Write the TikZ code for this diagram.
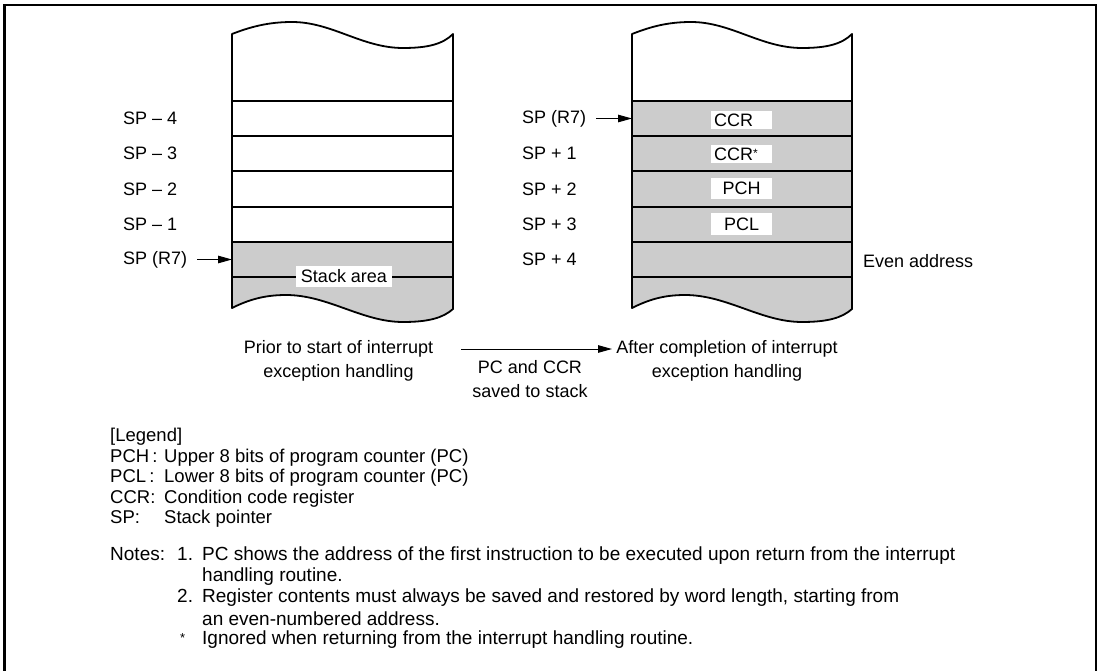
\documentclass[tikz,border=0pt]{standalone}
\usepackage{fontspec}
\setmainfont{Liberation Sans}
\usetikzlibrary{arrows.meta}
\definecolor{stackgray}{RGB}{204,204,204}
\begin{document}
\begin{tikzpicture}[x=1pt,y=-1pt,
  font=\fontsize{18}{21}\selectfont,
  stackline/.style={line width=1.8pt, line join=round},
  rowline/.style={line width=1.1pt},
  lbl/.style={anchor=west, inner sep=0pt},
  wbox/.style={fill=white, inner ysep=0pt, inner xsep=3pt, minimum width=61pt},
  arr/.style={-{Triangle[length=14pt,width=7.5pt]}, line width=1pt},
  capt/.style={align=center, inner sep=0pt, font=\fontsize{18}{24}\selectfont},
  txt/.style={anchor=west, inner sep=0pt, font=\fontsize{18.5}{21}\selectfont}
]
\useasboundingbox (0,0) rectangle (1102,671);
\draw[line width=2.3pt] (4.5,673) -- (4.5,5.3) -- (1096.3,5.3) -- (1096.3,673);

% ---------- left stack ----------
\fill[stackgray] (232,242) -- (453,242) -- (453,309)
  .. controls (443,318) and (428,322) .. (403,322)
  .. controls (362,322) and (328,295) .. (286,295)
  .. controls (264,295) and (248,300) .. (232,308) -- cycle;
\foreach \yy in {101,136,171,207,242,277}
  \draw[rowline] (232,\yy) -- (453,\yy);
\draw[stackline] (232,308) -- (232,34)
  .. controls (250,27) and (268,22) .. (292,22)
  .. controls (332,22) and (362,48) .. (403,48)
  .. controls (428,48) and (443,44) .. (453,34)
  -- (453,309)
  .. controls (443,318) and (428,322) .. (403,322)
  .. controls (362,322) and (328,295) .. (286,295)
  .. controls (264,295) and (248,300) .. (232,308) -- cycle;
\node[fill=white, inner xsep=5pt, inner ysep=0pt, minimum height=21pt] (stackarea) at (344,276.5) {Stack area};

\coordinate (lrow5) at (232,259.5);
\node[lbl] (lm4) at (123,118.5) {SP -- 4};
\node[lbl] (lm3) at (123,153.5) {SP -- 3};
\node[lbl] (lm2) at (123,189) {SP -- 2};
\node[lbl] (lm1) at (123,224.5) {SP -- 1};
\node[lbl] (lsp) at (123,259.5) {SP (R7)};
\draw[arr] (197,259.5) -- (lrow5);

% ---------- right stack ----------
\fill[stackgray] (632,101) -- (852,101) -- (852,309)
  .. controls (842,318) and (827,322) .. (802,322)
  .. controls (761,322) and (727,295) .. (685,295)
  .. controls (663,295) and (648,300) .. (632,308) -- cycle;
\foreach \yy in {101,136,171,207,242,277}
  \draw[rowline] (632,\yy) -- (852,\yy);
\draw[stackline] (632,308) -- (632,34)
  .. controls (650,27) and (667,22) .. (691,22)
  .. controls (731,22) and (761,48) .. (802,48)
  .. controls (827,48) and (842,44) .. (852,34)
  -- (852,309)
  .. controls (842,318) and (827,322) .. (802,322)
  .. controls (761,322) and (727,295) .. (685,295)
  .. controls (663,295) and (648,300) .. (632,308) -- cycle;

\node[wbox, text width=55pt, align=left, minimum height=18pt] (ccr)  at (741.5,120) {CCR};
\node[wbox, text width=55pt, align=left, minimum height=18pt] (ccrs) at (741.5,154) {CCR\raisebox{3pt}{\fontsize{12}{12}\selectfont *}};
\node[wbox, minimum height=21pt] (pch) at (741.5,188.5) {PCH};
\node[wbox, minimum height=22pt] (pcl) at (741.5,224) {PCL};

\coordinate (rrow1) at (632,118.5);
\node[lbl] (rsp) at (522,118.5) {SP (R7)};
\node[lbl] (rp1) at (522,153.5) {SP + 1};
\node[lbl] (rp2) at (522,189) {SP + 2};
\node[lbl] (rp3) at (522,224.5) {SP + 3};
\node[lbl] (rp4) at (522,259.5) {SP + 4};
\draw[arr] (596,118.5) -- (rrow1);
\node[lbl] (even) at (863,261) {Even address};

% ---------- captions ----------
\node[capt] (before) at (338.5,361) {Prior to start of interrupt\\exception handling};
\node[capt] (after) at (727,361) {After completion of interrupt\\exception handling};
\coordinate (arrs) at (461,349);
\coordinate (arre) at (612,349);
\draw[arr] (arrs) -- (arre);
\node[capt] (saved) at (530,379) {PC and CCR\\saved to stack};

% ---------- legend ----------
\node[txt] (leg0) at (110,437) {[Legend]};
\node[txt] (leg1) at (110,457.5) {\makebox[54pt][l]{PCH\,:}Upper 8 bits of program counter (PC)};
\node[txt] (leg2) at (110,478) {\makebox[54pt][l]{PCL\,:}Lower 8 bits of program counter (PC)};
\node[txt] (leg3) at (110,498.5) {\makebox[54pt][l]{CCR:}Condition code register};
\node[txt] (leg4) at (110,519) {\makebox[54pt][l]{SP:}Stack pointer};

% ---------- notes ----------
\begin{scope}[txt/.append style={font=\fontsize{19}{21}\selectfont}]
\node[txt] (n1) at (110,556) {\makebox[67pt][l]{Notes:}\makebox[25pt][l]{1.}PC shows the address of the first instruction to be executed upon return from the interrupt};
\node[txt] (n1b) at (202,577) {handling routine.};
\node[txt] (n2) at (177,598) {\makebox[25pt][l]{2.}Register contents must always be saved and restored by word length, starting from};
\node[txt] (n2b) at (202,619) {an even-numbered address.};
\node[txt] (n3) at (177,640) {\makebox[25pt][l]{\hspace{3pt}\raisebox{2pt}{\fontsize{13}{13}\selectfont *}}Ignored when returning from the interrupt handling routine.};
\end{scope}
\end{tikzpicture}
\end{document}
